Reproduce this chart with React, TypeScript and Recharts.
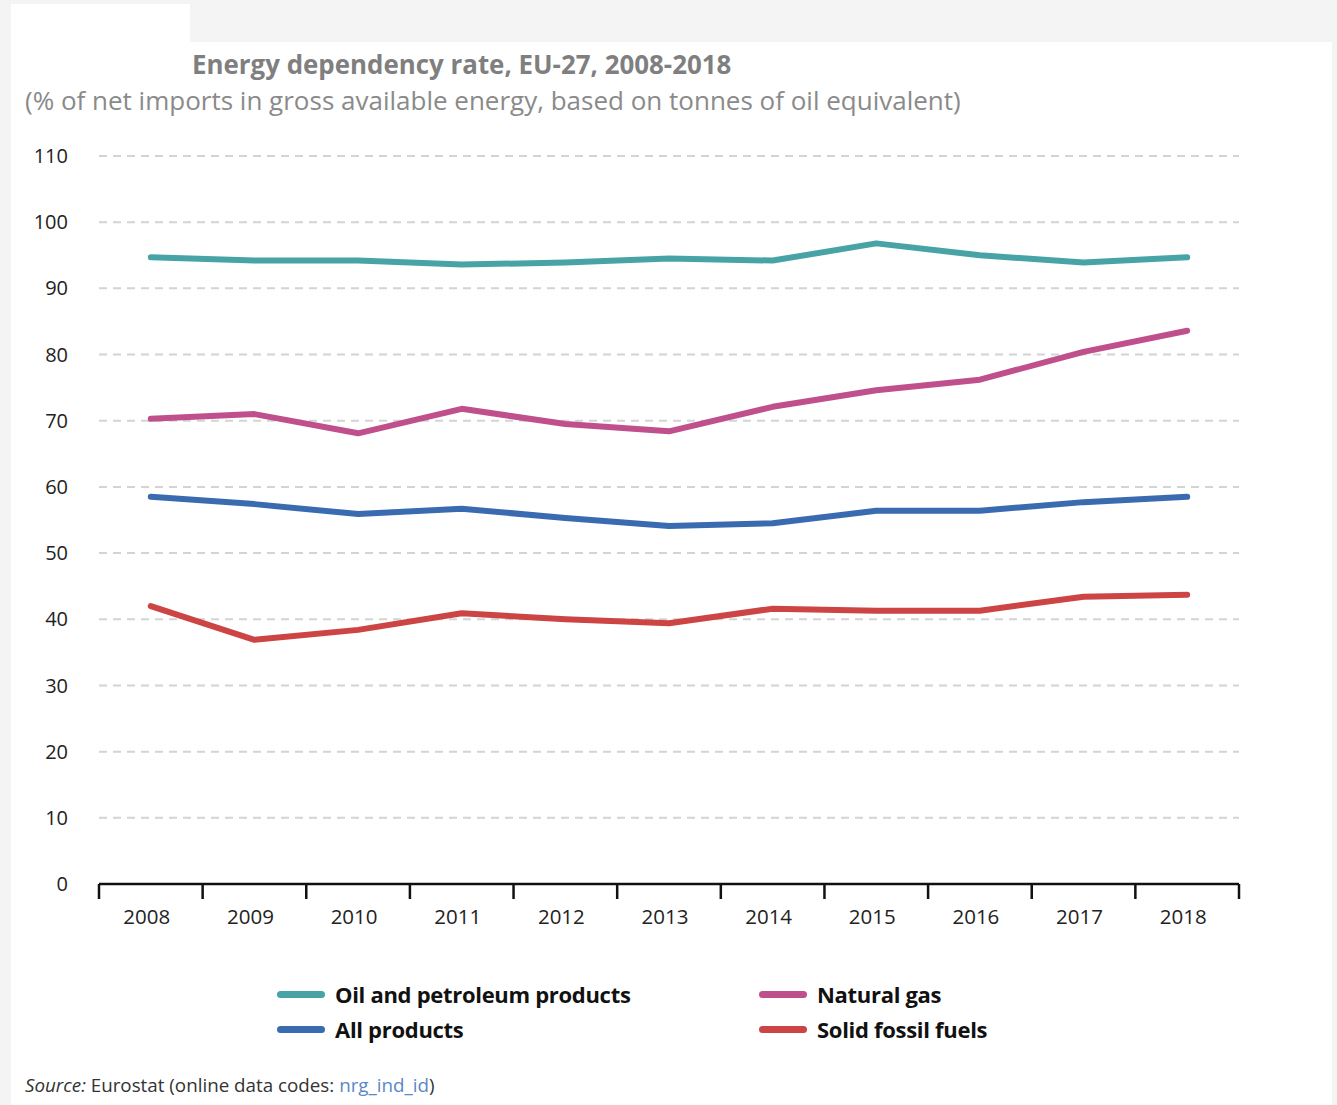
import React from "react";
import { LineChart, Line, XAxis, YAxis, CartesianGrid } from "recharts";

const years = ["2008", "2009", "2010", "2011", "2012", "2013", "2014", "2015", "2016", "2017", "2018"];
const oil = [94.7, 94.2, 94.2, 93.6, 93.9, 94.5, 94.2, 96.8, 95.0, 93.9, 94.7];
const gas = [70.3, 71.0, 68.1, 71.8, 69.5, 68.4, 72.1, 74.6, 76.2, 80.4, 83.6];
const allProducts = [58.5, 57.4, 55.9, 56.7, 55.3, 54.1, 54.5, 56.4, 56.4, 57.7, 58.5];
const solid = [42.0, 36.9, 38.4, 40.9, 40.0, 39.4, 41.6, 41.3, 41.3, 43.4, 43.7];
const yTicks = [0, 10, 20, 30, 40, 50, 60, 70, 80, 90, 100, 110];

const series = [
  { key: "oil", name: "Oil and petroleum products", color: "#48a3a6" },
  { key: "gas", name: "Natural gas", color: "#c0508c" },
  { key: "all", name: "All products", color: "#3a6bb0" },
  { key: "solid", name: "Solid fossil fuels", color: "#cc4444" },
];

const data = years.map((year, i) => ({
  year,
  oil: oil[i],
  gas: gas[i],
  all: allProducts[i],
  solid: solid[i],
}));

const FONT = "'Open Sans', sans-serif";

// year label plus tick marks on the band edges (not the band centre)
function YearTick(props: any) {
  const { x, y, payload, index, visibleTicksCount } = props;
  const half = payload.offset || 0;
  const last = index === visibleTicksCount - 1;
  return (
    <g>
      <line x1={x - half} x2={x - half} y1={y} y2={y + 15} stroke="#111" strokeWidth={2.5} />
      {last && <line x1={x + half} x2={x + half} y1={y} y2={y + 15} stroke="#111" strokeWidth={2.5} />}
      <text x={x - 4} y={y + 40} textAnchor="middle" fill="#222" fontSize={20.5} fontFamily={FONT}>
        {payload.value}
      </text>
    </g>
  );
}

function LegendItem({ name, color, left, top }: { name: string; color: string; left: number; top: number }) {
  return (
    <div style={{ position: "absolute", left, top, display: "flex", alignItems: "center" }}>
      <div style={{ width: 48, height: 7, borderRadius: 4, background: color, marginRight: 10 }} />
      <span style={{ fontFamily: FONT, fontWeight: 700, fontSize: 22, color: "#111", letterSpacing: -0.3 }}>{name}</span>
    </div>
  );
}

export default function App() {
  const legendPos = [
    { left: 277, top: 979 },
    { left: 759, top: 979 },
    { left: 277, top: 1014 },
    { left: 759, top: 1014 },
  ];
  return (
    <div style={{ position: "absolute", left: 0, top: 0, width: 1337, height: 1105, background: "#f4f4f4", overflow: "hidden" }}>
      <div style={{ position: "absolute", left: 11, top: 42, width: 1321, height: 1063, background: "#fff" }} />
      <div style={{ position: "absolute", left: 11, top: 4, width: 179, height: 38, background: "#fff" }} />
      <div style={{ position: "absolute", left: 192, top: 46, fontFamily: FONT, fontWeight: 700, fontSize: 25.9, color: "#7f7f7f", whiteSpace: "nowrap" }}>
        Energy dependency rate, EU-27, 2008-2018
      </div>
      <div style={{ position: "absolute", left: 25, top: 82, fontFamily: FONT, fontSize: 26, color: "#8a8a8a", whiteSpace: "nowrap" }}>
        (% of net imports in gross available energy, based on tonnes of oil equivalent)
      </div>
      <div style={{ position: "absolute", left: 0, top: 0 }}>
        <LineChart width={1300} height={940} data={data} margin={{ top: 156, right: 61, left: 0, bottom: 0 }}>
          <CartesianGrid vertical={false} stroke="#d4d4d4" strokeWidth={2} strokeDasharray="8 6" />
          <XAxis
            dataKey="year"
            scale="band"
            stroke="#111"
            strokeWidth={2.5}
            tickLine={false}
            tickSize={0}
            tickMargin={0}
            height={56}
            interval={0}
            tick={<YearTick />}
          />
          <YAxis
            domain={[0, 110]}
            ticks={yTicks}
            axisLine={false}
            tickLine={false}
            width={99}
            tickMargin={25}
            tick={{ fill: "#222", fontSize: 20, fontFamily: FONT }}
          />
          {series.map((s) => (
            <Line
              key={s.key}
              dataKey={s.key}
              name={s.name}
              type="linear"
              stroke={s.color}
              strokeWidth={6}
              strokeLinecap="round"
              strokeLinejoin="round"
              dot={false}
              activeDot={false}
              isAnimationActive={false}
            />
          ))}
        </LineChart>
      </div>
      {series.map((s, i) => (
        <LegendItem key={s.key} name={s.name} color={s.color} left={legendPos[i].left} top={legendPos[i].top} />
      ))}
      <div style={{ position: "absolute", left: 25, top: 1072, fontFamily: FONT, fontSize: 18.8, color: "#333", whiteSpace: "nowrap" }}>
        <i>Source:</i> Eurostat (online data codes: <span style={{ color: "#5b87c7" }}>nrg_ind_id</span>)
      </div>
    </div>
  );
}
